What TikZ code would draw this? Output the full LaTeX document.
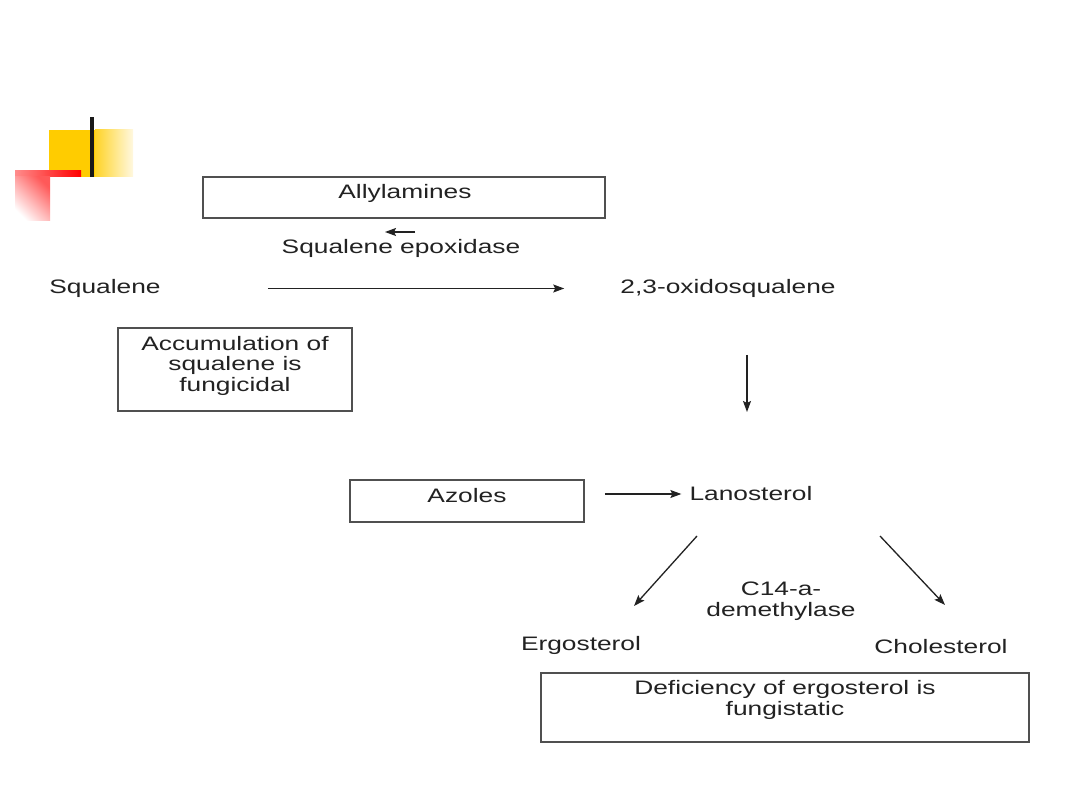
\documentclass[tikz,border=0pt]{standalone}
\usepackage{graphicx}
\usepackage{fontspec}
\setmainfont{Liberation Sans}
\usetikzlibrary{arrows.meta}
\definecolor{txtc}{HTML}{222222}
\definecolor{boxc}{HTML}{505050}
\definecolor{yel}{HTML}{FFCC00}
\definecolor{yell}{HTML}{FFF8E0}
\newcommand{\hs}[1]{\scalebox{1.35}[1]{#1}}
\tikzset{
  txt/.style={inner sep=0pt, text=txtc, align=center, font=\fontsize{19.5}{20.5}\selectfont},
  boxn/.style={draw=boxc, line width=1.6pt, inner sep=0pt},
  arr/.style={draw=txtc, line width=1.3pt, -{Stealth[length=11pt,width=8pt,inset=2pt]}}
}
\begin{document}
\begin{tikzpicture}[x=1pt,y=-1pt]
\useasboundingbox (0,0) rectangle (1080,810);
\fill[white] (0,0) rectangle (1080,810);
% decoration
\fill[yel] (49,130) rectangle (95,177);
\shade[left color=yel!85!white, right color=yell] (95,130) rectangle (133,177);
\shade[left color=red!45!white, right color=red] (15,171) rectangle (81,177);
\shade[shading=axis, top color=red!65!white, bottom color=white, shading angle=-45] (15,177) rectangle (50,221);
\fill[black!90] (90,117) rectangle (94,177);
% boxes
\node[boxn, minimum width=402pt, minimum height=41pt] (allybox) at (404,197.5) {};
\node[txt] (ally) at (405,193) {\hs{Allylamines}};
\node[txt] (epox) at (401,248) {\hs{Squalene epoxidase}};
\coordinate (e1) at (415,232);
\coordinate (e2) at (385,232);
\draw[arr] (e1) -- (e2);
\node[txt] (sq) at (105,288.5) {\hs{Squalene}};
\node[txt] (ox) at (728,288.5) {\hs{2,3-oxidosqualene}};
\draw[arr, shorten <=107pt, shorten >=56pt] (sq.east) -- (ox.west);
\node[boxn, minimum width=234pt, minimum height=83pt] (accbox) at (235,369.5) {};
\node[txt] (acc) at (235,365.5) {\hs{Accumulation of}\\\hs{squalene is}\\\hs{fungicidal}};
\coordinate (v1) at (747,355);
\coordinate (v2) at (747,412);
\draw[arr] (v1) -- (v2);
\node[boxn, minimum width=234pt, minimum height=42pt] (azbox) at (467,501) {};
\node[txt] (az) at (467,496) {\hs{Azoles}};
\node[txt] (lan) at (751,494) {\hs{Lanosterol}};
\draw[arr, shorten <=20pt, shorten >=8pt] (azbox.east |- lan.west) -- (lan.west);
\coordinate (l1) at (697,536);
\coordinate (l2) at (634,606);
\coordinate (r1) at (880,536);
\coordinate (r2) at (945,605);
\draw[arr] (l1) -- (l2);
\draw[arr] (r1) -- (r2);
\node[txt] (c14) at (781,601) {\hs{C14-a-}\\\hs{demethylase}};
\node[txt] (erg) at (581,645) {\hs{Ergosterol}};
\node[txt] (chol) at (941,647) {\hs{Cholesterol}};
\node[boxn, minimum width=488pt, minimum height=69pt] (defbox) at (785,707.5) {};
\node[txt] (def) at (785,700) {\hs{Deficiency of ergosterol is}\\\hs{fungistatic}};
\end{tikzpicture}
\end{document}
